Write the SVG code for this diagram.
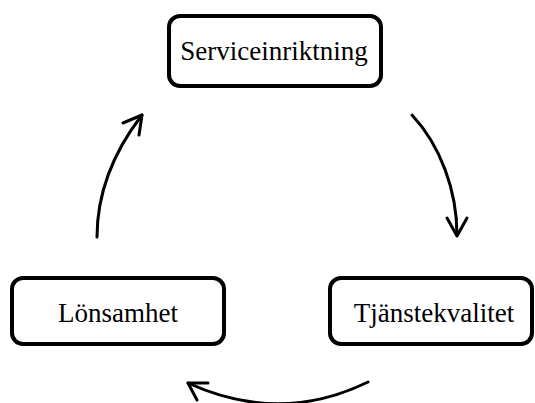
<svg xmlns="http://www.w3.org/2000/svg" width="535" height="403" viewBox="0 0 535 403">
<style>
.box{fill:#fff;stroke:#000;stroke-width:4}
.lbl{font-family:"Liberation Serif","Times New Roman",serif;font-size:27px;fill:#000;text-anchor:middle}
.arr{fill:none;stroke:#000;stroke-width:3;stroke-linecap:round;stroke-linejoin:round}
</style>
<rect width="535" height="403" fill="#fff"/>
<g id="connectors">
<path class="arr" d="M412,115 C440,145 457,190 457,235"/>
<polyline class="arr" points="447,218 457,236 467,218"/>
<path class="arr" d="M368,382 Q280,425 188,383"/>
<polyline class="arr" points="208,383 188,383 197,400"/>
<path class="arr" d="M97,237 C97,190 115,150 142,115"/>
<polyline class="arr" points="123,123 142,115 139,135"/>
</g>
<g id="node-serviceinriktning">
<rect class="box" x="169" y="16" width="212" height="70" rx="11"/>
<text class="lbl" x="274" y="60">Serviceinriktning</text>
</g>
<g id="node-lonsamhet">
<rect class="box" x="12" y="278" width="212" height="66" rx="11"/>
<text class="lbl" x="118" y="322">Lönsamhet</text>
</g>
<g id="node-tjanstekvalitet">
<rect class="box" x="330" y="278" width="202" height="66" rx="11"/>
<text class="lbl" x="434" y="322">Tjänstekvalitet</text>
</g>
</svg>
